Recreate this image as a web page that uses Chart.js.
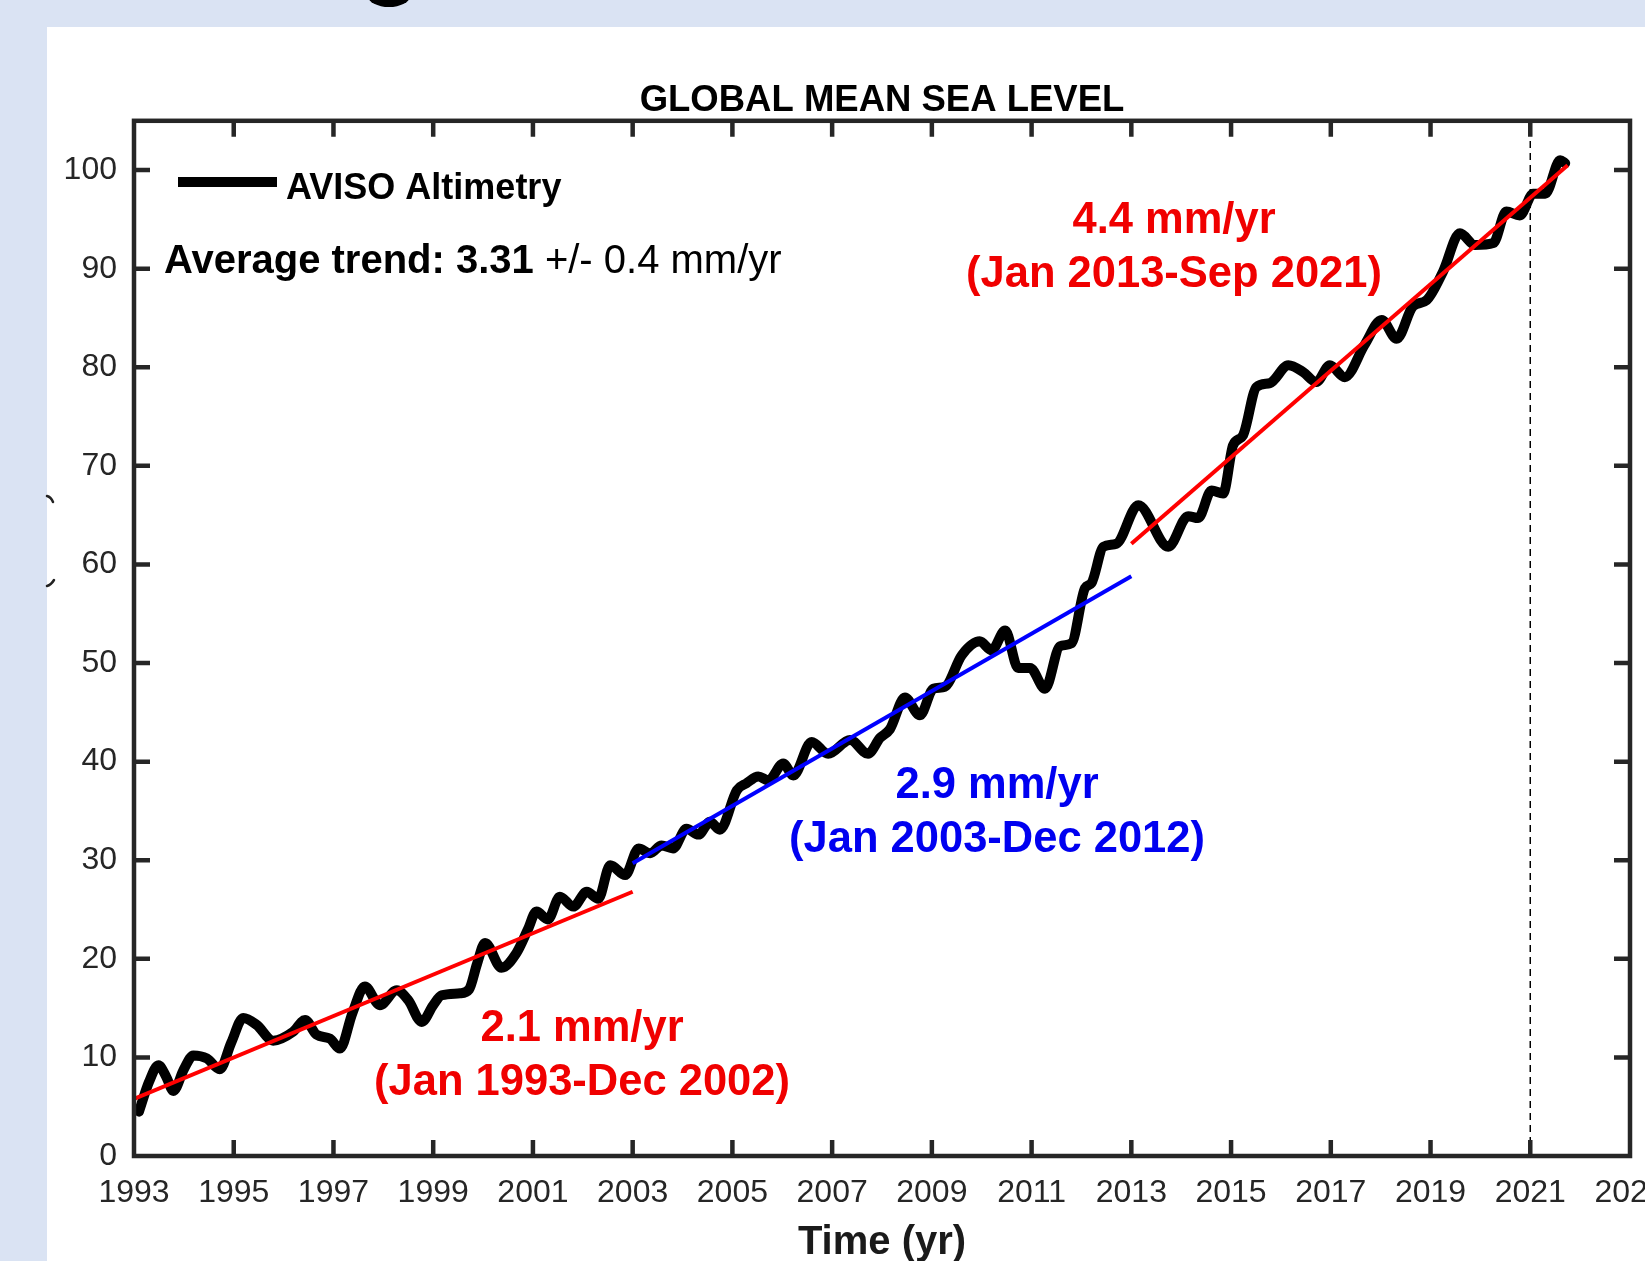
<!DOCTYPE html>
<html>
<head>
<meta charset="utf-8">
<script src="https://cdn.jsdelivr.net/npm/chart.js@4.4.1/dist/chart.umd.min.js"></script>
<style>
  html, body { margin: 0; padding: 0; background: #dae3f3; overflow: hidden; }
  canvas { display: block; }
</style>
</head>
<body>
<canvas id="gmslChart" width="1645" height="1261"></canvas>
<script>
// sea level (mm)
const years = [
  1993.10, 1993.30, 1993.49, 1993.65, 1993.79, 1994.00, 1994.19, 1994.46, 1994.72, 1994.95,
  1995.19, 1995.46, 1995.79, 1996.19, 1996.43, 1996.66, 1996.93, 1997.13, 1997.38, 1997.63,
  1997.93, 1998.27, 1998.50, 1998.77, 1999.00, 1999.17, 1999.54, 1999.72, 1999.88, 2000.04,
  2000.37, 2000.67, 2000.90, 2001.07, 2001.30, 2001.54, 2001.81, 2002.08, 2002.31, 2002.55,
  2002.85, 2003.12, 2003.35, 2003.58, 2003.81, 2004.08, 2004.32, 2004.55, 2004.75, 2005.09,
  2005.28, 2005.52, 2005.72, 2006.02, 2006.22, 2006.59, 2006.92, 2007.36, 2007.72, 2007.96,
  2008.16, 2008.46, 2008.76, 2009.03, 2009.26, 2009.60, 2009.96, 2010.20, 2010.47, 2010.73,
  2010.97, 2011.27, 2011.57, 2011.80, 2012.07, 2012.20, 2012.44, 2012.70, 2013.14, 2013.74,
  2014.14, 2014.34, 2014.61, 2014.84, 2015.04, 2015.24, 2015.51, 2015.78, 2016.15, 2016.45,
  2016.71, 2016.98, 2017.28, 2017.68, 2018.02, 2018.32, 2018.65, 2018.92, 2019.25, 2019.59,
  2019.89, 2020.26, 2020.52, 2020.79, 2021.06, 2021.30, 2021.60, 2021.70
];
const gmsl = [
  4.5, 7.5, 9.2, 8.0, 6.6, 8.8, 10.2, 9.9, 8.8, 11.5,
  14.0, 13.3, 11.7, 12.6, 13.8, 12.3, 11.9, 10.9, 14.5, 17.2,
  15.3, 16.8, 15.8, 13.6, 15.3, 16.3, 16.5, 16.9, 19.5, 21.6,
  19.1, 20.6, 23.0, 24.8, 24.0, 26.3, 25.3, 26.8, 26.1, 29.5,
  28.5, 31.2, 30.7, 31.5, 31.2, 33.2, 32.6, 33.9, 33.1, 37.1,
  37.8, 38.5, 38.1, 39.8, 38.6, 42.0, 40.8, 42.2, 40.8, 42.4,
  43.3, 46.5, 44.7, 47.4, 47.6, 50.8, 52.2, 51.3, 53.3, 49.5,
  49.5, 47.4, 51.7, 52.0, 57.6, 58.1, 61.8, 62.1, 66.0, 61.8,
  64.9, 64.7, 67.5, 67.2, 72.1, 73.1, 78.0, 78.4, 80.2, 79.5,
  78.5, 80.2, 79.0, 82.3, 84.8, 82.9, 86.2, 86.8, 89.7, 93.6,
  92.4, 92.6, 95.8, 95.4, 97.6, 97.6, 101.0, 100.7
];

// fitted trends
const trend1X = [1993, 2003];
const trend1Y = [5.8, 26.8];
const trend2X = [2003, 2013];
const trend2Y = [29.7, 58.8];
const trend3X = [2013, 2021.75];
const trend3Y = [62.1, 100.5];

const markerYear = 2021;

const xTicks = [1993, 1995, 1997, 1999, 2001, 2003, 2005, 2007, 2009, 2011, 2013, 2015, 2017, 2019, 2021, 2023];
const yTicks = [0, 10, 20, 30, 40, 50, 60, 70, 80, 90, 100];

const FONT = '"Liberation Sans", Arial, Helvetica, sans-serif';
Chart.defaults.font.family = FONT;

function pts(xs, ys) {
  return xs.map((x, i) => ({ x: x, y: ys[i] }));
}

const AXIS = '#262626';

// background slide, axes box, inward ticks and the text notes
const decor = {
  id: 'decor',
  beforeDraw(chart) {
    const ctx = chart.ctx;
    ctx.save();
    ctx.fillStyle = '#dae3f3';
    ctx.fillRect(0, 0, chart.width, chart.height);
    ctx.fillStyle = '#ffffff';
    ctx.fillRect(47, 27, chart.width - 47, chart.height - 27);
    // bit of a slide heading letter peeking in at the top
    ctx.fillStyle = '#000';
    ctx.beginPath();
    ctx.ellipse(389, -4, 21, 11, 0, 0, Math.PI * 2);
    ctx.fill();
    // cut-off y axis label fragments
    ctx.strokeStyle = '#222';
    ctx.lineWidth = 2.5;
    ctx.lineCap = 'round';
    ctx.beginPath();
    ctx.moveTo(47, 496);
    ctx.quadraticCurveTo(51, 497, 53, 502);
    ctx.moveTo(47, 586);
    ctx.quadraticCurveTo(51, 585, 54, 580);
    ctx.stroke();
    ctx.restore();
  },
  afterDraw(chart) {
    const { ctx, chartArea: a, scales } = chart;
    const x = scales.x, y = scales.y;
    ctx.save();
    ctx.strokeStyle = AXIS;
    ctx.lineWidth = 4.5;
    ctx.lineCap = 'butt';
    ctx.beginPath();
    xTicks.forEach(v => {
      const px = x.getPixelForValue(v);
      if (px <= a.left + 2 || px >= a.right - 2) return;
      ctx.moveTo(px, a.bottom); ctx.lineTo(px, a.bottom - 16);
      ctx.moveTo(px, a.top); ctx.lineTo(px, a.top + 16);
    });
    yTicks.forEach(v => {
      const py = y.getPixelForValue(v);
      if (py >= a.bottom - 2 || py <= a.top + 2) return;
      ctx.moveTo(a.left, py); ctx.lineTo(a.left + 16, py);
      ctx.moveTo(a.right, py); ctx.lineTo(a.right - 16, py);
    });
    ctx.stroke();
    ctx.lineJoin = 'miter';
    ctx.strokeRect(a.left, a.top, a.right - a.left, a.bottom - a.top);

    // legend entry
    ctx.strokeStyle = '#000';
    ctx.lineWidth = 10;
    ctx.beginPath();
    ctx.moveTo(178, 182); ctx.lineTo(277, 182);
    ctx.stroke();
    ctx.fillStyle = '#000';
    ctx.textBaseline = 'alphabetic';
    ctx.textAlign = 'left';
    ctx.font = 'bold 36px ' + FONT;
    ctx.fillText('AVISO Altimetry', 286, 199);

    // average trend
    ctx.font = 'bold 40px ' + FONT;
    const boldPart = 'Average trend: 3.31';
    ctx.fillText(boldPart, 164, 273);
    const w = ctx.measureText(boldPart).width;
    ctx.font = '40px ' + FONT;
    ctx.fillText(' +/- 0.4 mm/yr', 164 + w, 273);

    // trend notes
    ctx.textAlign = 'center';
    ctx.textBaseline = 'middle';
    ctx.font = 'bold 43.5px ' + FONT;
    const notes = [
      ['2.1 mm/yr', '(Jan 1993-Dec 2002)', '#f00000', 582, 1029],
      ['2.9 mm/yr', '(Jan 2003-Dec 2012)', '#0000f0', 997, 786],
      ['4.4 mm/yr', '(Jan 2013-Sep 2021)', '#f00000', 1174, 221]
    ];
    notes.forEach(n => {
      ctx.fillStyle = n[2];
      ctx.fillText(n[0], n[3], n[4]);
      ctx.fillText(n[1], n[3], n[4] + 54);
    });
    ctx.restore();
  }
};

const config = {
  type: 'line',
  data: {
    datasets: [
      {
        data: pts(trend1X, trend1Y),
        borderColor: '#ff0000',
        borderWidth: 4,
      },
      {
        data: pts(trend2X, trend2Y),
        borderColor: '#0000ff',
        borderWidth: 4,
      },
      {
        data: pts(trend3X, trend3Y),
        borderColor: '#ff0000',
        borderWidth: 4,
      },
      {
        label: 'AVISO Altimetry',
        data: pts(years, gmsl),
        borderColor: '#000000',
        borderWidth: 10,
        cubicInterpolationMode: 'monotone',
        borderCapStyle: 'round',
        borderJoinStyle: 'round',
      },
      {
        data: pts([markerYear, markerYear], [0, 105]),
        borderColor: '#000000',
        borderWidth: 1.5,
        borderDash: [7, 5],
      },
    ],
  },
  options: {
    responsive: false,
    animation: false,
    layout: {
      padding: { left: 0, right: 15, top: 0, bottom: 0 },
    },
    elements: {
      point: { radius: 0, hoverRadius: 0 },
    },
    scales: {
      x: {
        type: 'linear',
        min: 1993,
        max: 2023,
        grid: { display: false, drawTicks: false },
        border: { display: false },
        afterBuildTicks: axis => {
          axis.ticks = xTicks.map(v => ({ value: v }));
        },
        afterFit: axis => {
          axis.height = 105;
          axis.paddingLeft = 0;
          axis.paddingRight = 0;
        },
        ticks: {
          autoSkip: false,
          maxRotation: 0,
          minRotation: 0,
          padding: 18,
          color: AXIS,
          font: { size: 32 },
          callback: v => String(v),
        },
        title: {
          display: true,
          text: 'Time (yr)',
          color: '#1a1a1a',
          font: { size: 40, weight: 'bold', lineHeight: 1 },
          padding: { top: 0, bottom: -2 },
        },
      },
      y: {
        min: 0,
        max: 105,
        grid: { display: false, drawTicks: false },
        border: { display: false },
        afterBuildTicks: axis => {
          axis.ticks = yTicks.map(v => ({ value: v }));
        },
        afterFit: axis => {
          axis.width = 134;
          axis.paddingTop = 0;
          axis.paddingBottom = 0;
        },
        ticks: {
          padding: 17,
          color: AXIS,
          font: { size: 32 },
          callback: v => String(v),
        },
      },
    },
    plugins: {
      legend: { display: false },
      tooltip: { enabled: false },
      title: {
        display: true,
        fullSize: false,
        text: 'GLOBAL MEAN SEA LEVEL',
        color: '#000',
        font: { size: 36.5, weight: 'bold', lineHeight: 1.2 },
        padding: { top: 79, bottom: -2 },
      },
    },
  },
  plugins: [decor],
};

const myChart = new Chart(document.getElementById('gmslChart'), config);
</script>
</body>
</html>
